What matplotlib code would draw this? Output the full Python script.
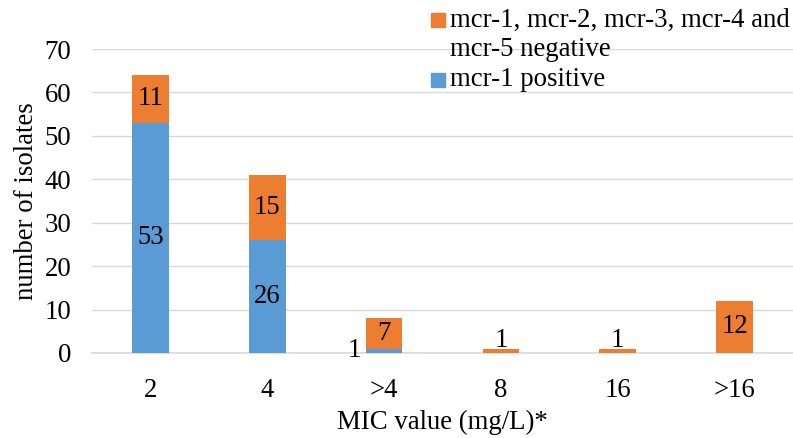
import matplotlib
matplotlib.use("Agg")
import matplotlib.pyplot as plt
from matplotlib.patches import Rectangle
import numpy as np

plt.rcParams['font.family'] = ['Liberation Serif', 'DejaVu Serif']

categories = ['2', '4', '>4', '8', '16', '>16']
mcr1_positive = [53, 26, 1, 0, 0, 0]
mcr_negative = [11, 15, 7, 1, 1, 12]
y_ticks = [0, 10, 20, 30, 40, 50, 60, 70]

blue = '#5B9BD5'
orange = '#ED7D31'
grid_color = '#D9D9D9'
fs = 19.3

fig = plt.figure(figsize=(7.93, 4.38), dpi=100)
ax = fig.add_axes([92 / 793, 1 - 353 / 438, 701 / 793, 304 / 438])

x = np.arange(len(categories))
width = 0.315
ax.bar(x, mcr1_positive, width, color=blue, zorder=3)
ax.bar(x, mcr_negative, width, bottom=mcr1_positive, color=orange, zorder=3)

# data labels
for i in range(len(categories)):
    b = mcr1_positive[i]
    o = mcr_negative[i]
    if b >= 5:
        ax.text(x[i], b / 2, str(b), ha='center', va='center', fontsize=fs, zorder=4)
    elif b > 0:
        ax.annotate(str(b), (x[i] - width / 2, b / 2), xytext=(-8, 0), textcoords='offset points',
                    ha='center', va='center', fontsize=fs, zorder=4)
    if o >= 3:
        ax.text(x[i], b + o / 2, str(o), ha='center', va='center', fontsize=fs, zorder=4)
    else:
        ax.annotate(str(o), (x[i], b + o), xytext=(0, -3), textcoords='offset points',
                    ha='center', va='bottom', fontsize=fs, zorder=4)

ax.set_xlim(-0.5, len(categories) - 0.5)
ax.set_ylim(0, 70)
ax.set_yticks(y_ticks)
ax.set_xticks(x)
ax.set_xticklabels(categories)
ax.tick_params(axis='both', length=0, labelsize=fs)
ax.tick_params(axis='y', pad=15)
ax.tick_params(axis='x', pad=18)
ax.grid(axis='y', color=grid_color, linewidth=1, zorder=0)
for s in ['top', 'right', 'left']:
    ax.spines[s].set_visible(False)
ax.spines['bottom'].set_color(grid_color)
ax.spines['bottom'].set_linewidth(1.2)
ax.spines['bottom'].set_zorder(2)

ax.set_xlabel('MIC value (mg/L)*', fontsize=fs, labelpad=5)
ax.set_ylabel('number of isolates', fontsize=fs, labelpad=4)

# legend
W, H = 793, 438
fig.patches.append(Rectangle((431 / W, 1 - 27 / H), 14 / W, 14 / H, transform=fig.transFigure,
                             color=orange, zorder=5))
fig.patches.append(Rectangle((431 / W, 1 - 87 / H), 14 / W, 14 / H, transform=fig.transFigure,
                             color=blue, zorder=5))
fig.text(450 / W, 1 - 20 / H, 'mcr-1, mcr-2, mcr-3, mcr-4 and', fontsize=fs, va='center', ha='left')
fig.text(450 / W, 1 - 50 / H, 'mcr-5 negative', fontsize=fs, va='center', ha='left')
fig.text(450 / W, 1 - 80 / H, 'mcr-1 positive', fontsize=fs, va='center', ha='left')

fig.savefig('out.png', dpi=100)
